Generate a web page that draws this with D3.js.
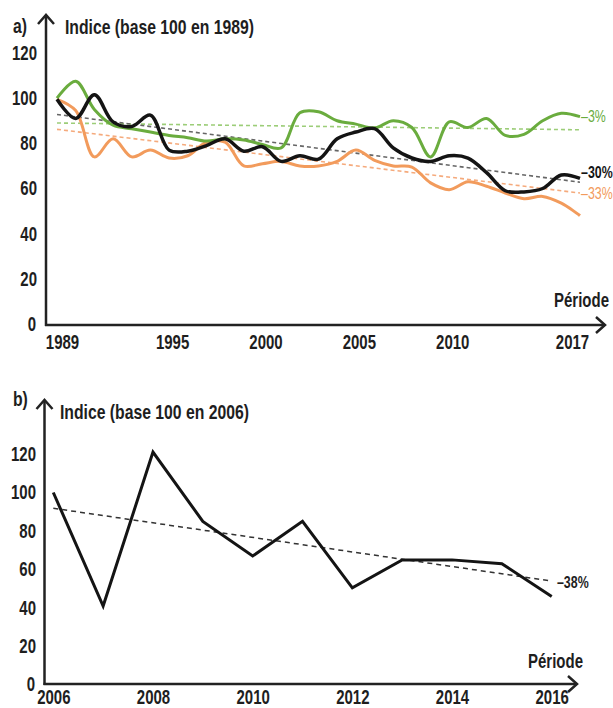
<!DOCTYPE html>
<html>
<head>
<meta charset="utf-8">
<script src="https://cdn.jsdelivr.net/npm/d3@7"></script>
<style>
body { margin: 0; background: #fff; }
svg text { font-family: "Liberation Sans", Arial, sans-serif; font-weight: bold; fill: #1e1e1e; }
</style>
</head>
<body>
<svg id="chart" width="613" height="708"></svg>
<script>
// ---- data, chart a) ----
var yearsA = [1989, 1990, 1991, 1992, 1993, 1994, 1995, 1996, 1997, 1998, 1999, 2000, 2001, 2002,
  2003, 2004, 2005, 2006, 2007, 2008, 2009, 2010, 2011, 2012, 2013, 2014, 2015, 2016, 2017]
var greenA = [100, 107.5, 95, 88, 86.5, 85, 83.5, 82.5, 81, 82, 81.5, 79.5, 78, 93.5,
  94, 90, 88.5, 86.8, 90, 87, 74, 89.5, 87, 91, 83.5, 84, 90, 93.3, 91.8]
var blackA = [99.5, 91, 101.5, 89.5, 87.5, 92.5, 77, 76.5, 79, 82, 76.5, 78.5, 72, 74.5,
  73, 82, 85, 86.5, 78, 73.5, 72, 74.5, 73.5, 67, 59, 58.5, 60, 66, 64.5]
var orangeA = [99.5, 94.5, 74, 82, 74, 77, 73.5, 74.5, 80.5, 80.5, 70, 71, 72, 70,
  70, 72, 77, 72.5, 70, 69.5, 62.5, 59.5, 63, 61, 58, 55.5, 56.5, 53.5, 48]
var greenTrend = [89, 86]
var blackTrend = [92.8, 62.8]
var orangeTrend = [86.2, 58]
var pctLabelsA = ["\u20133%", "\u201330%", "\u201333%"]
var pctValuesA = [92, 67, 58]
var xTicksA = [1989, 1995, 2000, 2005, 2010, 2017]

// ---- data, chart b) ----
var yearsB = [2006, 2007, 2008, 2009, 2010, 2011, 2012, 2013, 2014, 2015, 2016]
var valuesB = [100, 41, 121, 85, 67, 85, 50.5, 65, 65, 63, 46]
var trendB = [91.8, 54]
var pctLabelB = "\u201338%"
var xTicksB = [2006, 2008, 2010, 2012, 2014, 2016]

var yTicks = [0, 20, 40, 60, 80, 100, 120]

var colors = { green: "#6aac3e", black: "#141414", orange: "#f29b5c" }
var trendColors = { green: "#9ccd78", black: "#666", orange: "#f5aa7c" }

var svg = d3.select("#chart")

// scales
var xA = d3.scaleLinear().domain([1989, 2017]).range([57, 580])
var yA = d3.scaleLinear().domain([0, 120]).range([324, 53])
var xB = d3.scaleLinear().domain([2006, 2016]).range([53.3, 551.7])
var yB = d3.scaleLinear().domain([0, 120]).range([685, 454])

// no condensed font installed: squeeze the bold sans horizontally around each text's x
var squeeze = 0.75
function condense(sel) {
  sel.each(function() {
    var t = d3.select(this)
    var x = +t.attr("x") || 0
    t.attr("transform", "translate(" + x + ",0) scale(" + squeeze + ",1) translate(" + (-x) + ",0)")
  })
}

function drawFrame(g, x0, xEnd, yTop, yBase) {
  g.append("line").attr("x1", x0).attr("x2", x0).attr("y1", yBase + 1).attr("y2", yTop)
    .attr("stroke", "#222").attr("stroke-width", 2.5)
  g.append("line").attr("x1", x0 - 1).attr("x2", xEnd).attr("y1", yBase).attr("y2", yBase)
    .attr("stroke", "#222").attr("stroke-width", 2.5)
  g.append("path").attr("d", "M" + (x0 - 8) + "," + (yTop + 9) + "L" + x0 + "," + yTop + "L" + (x0 + 8) + "," + (yTop + 9))
    .attr("fill", "none").attr("stroke", "#222").attr("stroke-width", 2.5)
  g.append("path").attr("d", "M" + (xEnd - 9) + "," + (yBase - 8) + "L" + xEnd + "," + yBase + "L" + (xEnd - 9) + "," + (yBase + 8))
    .attr("fill", "none").attr("stroke", "#222").attr("stroke-width", 2.5)
}

// ================= chart a) =================
var ga = svg.append("g")

ga.append("g")
  .attr("transform", "translate(37,0)")
  .call(d3.axisLeft(yA).tickValues(yTicks.filter(d => d > 0)).tickSize(0).tickPadding(0))
  .call(g => g.select(".domain").remove())
  .selectAll("text").style("font-size", "20px").attr("fill", "#1e1e1e").call(condense)
ga.append("text").attr("x", 36).attr("y", 325).attr("dy", "0.32em")
  .attr("text-anchor", "end").style("font-size", "20px").text("0").call(condense)

var xAxisA = ga.append("g")
  .attr("transform", "translate(0,325)")
  .call(d3.axisBottom(xA).tickValues(xTicksA).tickFormat(d3.format("d")).tickSize(0).tickPadding(10))
xAxisA.select(".domain").remove()
xAxisA.selectAll("text").style("font-size", "20px").attr("fill", "#1e1e1e")
  .attr("x", d => d === 1989 ? 5 : d === 2017 ? -8 : 3)
  .call(condense)

drawFrame(ga, 46, 605, 15, 325)

ga.append("text").attr("x", 13).attr("y", 33).style("font-size", "21px").text("a)").call(condense)
ga.append("text").attr("x", 65).attr("y", 34).style("font-size", "21px").text("Indice (base 100 en 1989)").call(condense)
ga.append("text").attr("x", 609).attr("y", 307).attr("text-anchor", "end").style("font-size", "20px").text("Période").call(condense)

// trend lines
var trendsA = [["green", greenTrend], ["black", blackTrend], ["orange", orangeTrend]]
trendsA.forEach(function(t) {
  ga.append("line")
    .attr("x1", xA(1989)).attr("y1", yA(t[1][0]))
    .attr("x2", xA(2017)).attr("y2", yA(t[1][1]))
    .attr("stroke", trendColors[t[0]]).attr("stroke-width", 1.6)
    .attr("stroke-dasharray", "4,3")
})

var lineA = d3.line()
  .x((d, i) => xA(yearsA[i]))
  .y(d => yA(d))
  .curve(d3.curveCatmullRom.alpha(0.5))

var seriesA = [["orange", orangeA, 3], ["green", greenA, 3], ["black", blackA, 3.5]]
seriesA.forEach(function(s) {
  ga.append("path").datum(s[1])
    .attr("d", lineA)
    .attr("fill", "none")
    .attr("stroke", colors[s[0]])
    .attr("stroke-width", s[2])
    .attr("stroke-linejoin", "round")
})

var pctColors = [colors.green, colors.black, colors.orange]
pctLabelsA.forEach(function(lbl, i) {
  ga.append("text")
    .attr("x", 581).attr("y", yA(pctValuesA[i])).attr("dy", "0.35em")
    .style("font-size", "16.5px").style("font-weight", i === 1 ? "bold" : "normal")
    .style("fill", pctColors[i])
    .text(lbl)
    .call(condense)
})

// ================= chart b) =================
var gb = svg.append("g")

gb.append("g")
  .attr("transform", "translate(36,0)")
  .call(d3.axisLeft(yB).tickValues(yTicks.filter(d => d > 0)).tickSize(0).tickPadding(0))
  .call(g => g.select(".domain").remove())
  .selectAll("text").style("font-size", "20px").attr("fill", "#1e1e1e").call(condense)
gb.append("text").attr("x", 35).attr("y", 685).attr("dy", "0.32em")
  .attr("text-anchor", "end").style("font-size", "20px").text("0").call(condense)

var xAxisB = gb.append("g")
  .attr("transform", "translate(0,684)")
  .call(d3.axisBottom(xB).tickValues(xTicksB).tickFormat(d3.format("d")).tickSize(0).tickPadding(6))
xAxisB.select(".domain").remove()
xAxisB.selectAll("text").style("font-size", "20px").attr("fill", "#1e1e1e").call(condense)

drawFrame(gb, 44.5, 577, 400, 684)

gb.append("text").attr("x", 13).attr("y", 406).style("font-size", "21px").text("b)").call(condense)
gb.append("text").attr("x", 60).attr("y", 419).style("font-size", "21px").text("Indice (base 100 en 2006)").call(condense)
gb.append("text").attr("x", 583).attr("y", 668).attr("text-anchor", "end").style("font-size", "20px").text("Période").call(condense)

gb.append("line")
  .attr("x1", xB(2006)).attr("y1", yB(trendB[0]))
  .attr("x2", xB(2016)).attr("y2", yB(trendB[1]))
  .attr("stroke", "#333").attr("stroke-width", 1.5)
  .attr("stroke-dasharray", "5,4")

var lineB = d3.line()
  .x((d, i) => xB(yearsB[i]))
  .y(d => yB(d))

gb.append("path").datum(valuesB)
  .attr("d", lineB)
  .attr("fill", "none")
  .attr("stroke", colors.black)
  .attr("stroke-width", 3)
  .attr("stroke-linejoin", "miter")

gb.append("text")
  .attr("x", 557).attr("y", yB(trendB[1]) + 1).attr("dy", "0.35em")
  .style("font-size", "16.5px").text(pctLabelB).call(condense)
</script>
</body>
</html>
